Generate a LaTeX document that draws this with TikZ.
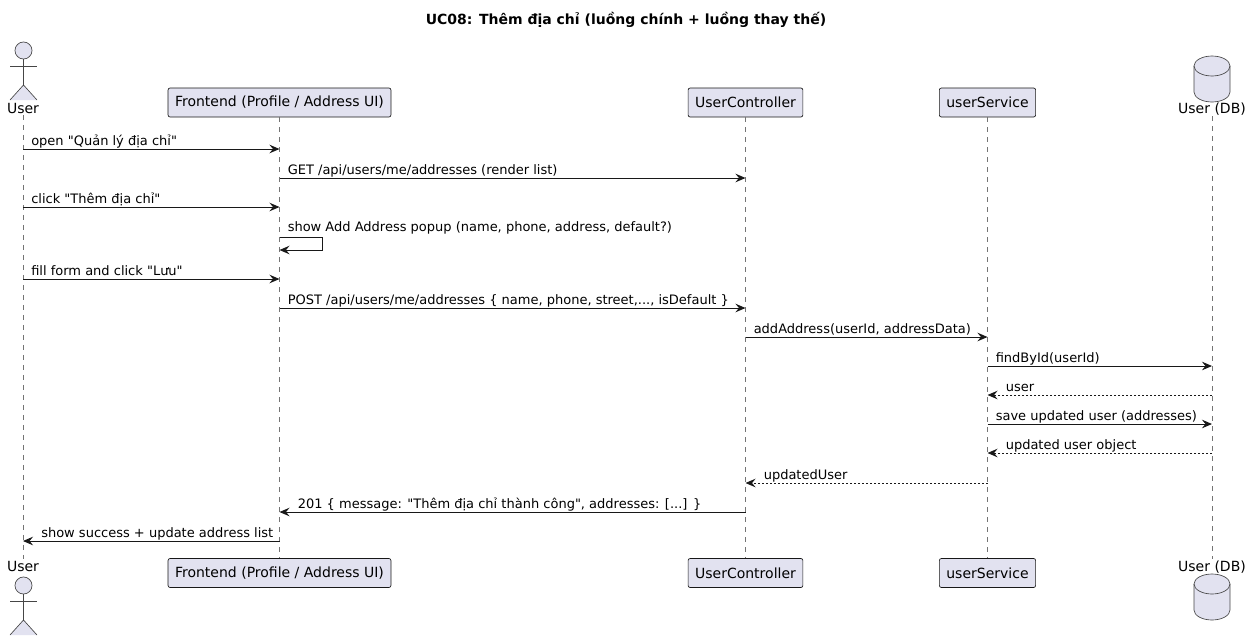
\documentclass[tikz,border=0pt]{standalone}
\usepackage{fontspec}
\setmainfont{DejaVu Sans}
\usepackage{xcolor}
\usetikzlibrary{arrows.meta}

\definecolor{partfill}{HTML}{E2E2F0}
\definecolor{partline}{HTML}{181818}

\begin{document}
\begin{tikzpicture}[
    x=0.75pt, y=-0.75pt,
    part/.style={draw=partline, fill=partfill, line width=0.5pt, rounded corners=1.5pt, minimum height=21.75pt, inner xsep=5.25pt, font=\fontsize{10.5}{12}\selectfont},
    plabel/.style={inner sep=1pt, anchor=base, font=\fontsize{10.5}{12}\selectfont},
    figure/.style={draw=partline!80, fill=partfill, line width=0.5pt},
    lifeline/.style={draw=partline!60, line width=0.4pt, dash pattern=on 3.75pt off 3.75pt},
    msg/.style={-{Stealth[length=7.5pt, width=6.4pt, inset=2.6pt]}, draw=partline, line width=0.75pt},
    reply/.style={msg, dash pattern=on 1.5pt off 1.5pt},
    msgtext/.style={anchor=base west, inner sep=0pt, font=\fontsize{9.75}{11}\selectfont}
]
\useasboundingbox (0,0) rectangle (1250,639);

% Title
\node[anchor=base, font=\bfseries\fontsize{10.5}{12}\selectfont] (title) at (626,25) {UC08: Thêm địa chỉ (luồng chính + luồng thay thế)};

% Participants (top)
\node[plabel] (user) at (23,113) {User};
\node[part] (fe) at (279.5,102.5) {Frontend (Profile / Address UI)};
\node[part] (ctrl) at (745.5,102.5) {UserController};
\node[part] (svc) at (987.5,102.5) {userService};
\node[plabel] (db) at (1212,113) {User (DB)};

% Participants (bottom)
\node[plabel] (userB) at (23,571) {User};
\node[part] (feB) at (279.5,573) {Frontend (Profile / Address UI)};
\node[part] (ctrlB) at (745.5,573) {UserController};
\node[part] (svcB) at (987.5,573) {userService};
\node[plabel] (dbB) at (1212,571) {User (DB)};

% Actor figures
\foreach \dy in {0,535} {
  \draw[figure] (23.5,50.5+\dy) circle[radius=6.4pt];
  \draw[figure] (23.5,59+\dy) -- (23.5,85+\dy);
  \draw[figure] (10,66+\dy) -- (37,66+\dy);
  \draw[figure] (10,100+\dy) -- (23.5,85+\dy) -- (37,100+\dy);
}

% Database cylinders
\foreach \dy in {0,518} {
  \draw[figure] (1194,66+\dy) -- (1194,92+\dy) arc[start angle=180, end angle=360, x radius=13.5pt, y radius=7.5pt]
    -- (1230,66+\dy) arc[start angle=0, end angle=180, x radius=13.5pt, y radius=7.5pt] -- cycle;
  \draw[figure, fill=none] (1194,66+\dy) arc[start angle=180, end angle=360, x radius=13.5pt, y radius=7.5pt];
}

% Lifelines
\draw[lifeline] (user.south) -- (userB.north);
\draw[lifeline] (fe.south) -- (feB.north);
\draw[lifeline] (ctrl.south) -- (ctrlB.north);
\draw[lifeline] (svc.south) -- (svcB.north);
\draw[lifeline] (db.south) -- (dbB.north);

% Calls (left to right)
\foreach \a/\b/\y/\t in {
    user/fe/149/{open \textquotedbl Quản lý địa chỉ\textquotedbl},
    fe/ctrl/178/{GET /api/users/me/addresses (render list)},
    user/fe/207/{click \textquotedbl Thêm địa chỉ\textquotedbl},
    user/fe/279/{fill form and click \textquotedbl Lưu\textquotedbl},
    fe/ctrl/308/{POST /api/users/me/addresses \{ name, phone, street,..., isDefault \}},
    ctrl/svc/337/{addAddress(userId, addressData)},
    svc/db/366/{findById(userId)},
    svc/db/424/{save updated user (addresses)}} {
  \draw[msg] (\a |- 0,\y) -- (\b |- 0,\y);
  \path (\a |- 0,\y) ++(8,-4) node[msgtext] {\t};
}

% Self call
\draw[msg] (fe |- 0,237) -- ++(43,0) -- ++(0,13) -- (fe |- 0,250);
\path (fe |- 0,237) ++(8,-6) node[msgtext] {show Add Address popup (name, phone, address, default?)};

% Returns
\foreach \a/\b/\y/\t in {
    db/svc/395/{user},
    db/svc/453/{updated user object},
    svc/ctrl/483/{updatedUser}} {
  \draw[reply] (\a |- 0,\y) -- (\b |- 0,\y);
  \path (\b |- 0,\y) ++(18,-4) node[msgtext] {\t};
}

% Responses (right to left)
\foreach \a/\b/\y/\t in {
    ctrl/fe/512/{201 \{ message: \textquotedbl Thêm địa chỉ thành công\textquotedbl, addresses: [...] \}},
    fe/user/541/{show success + update address list}} {
  \draw[msg] (\a |- 0,\y) -- (\b |- 0,\y);
  \path (\b |- 0,\y) ++(18,-4) node[msgtext] {\t};
}

\end{tikzpicture}
\end{document}
